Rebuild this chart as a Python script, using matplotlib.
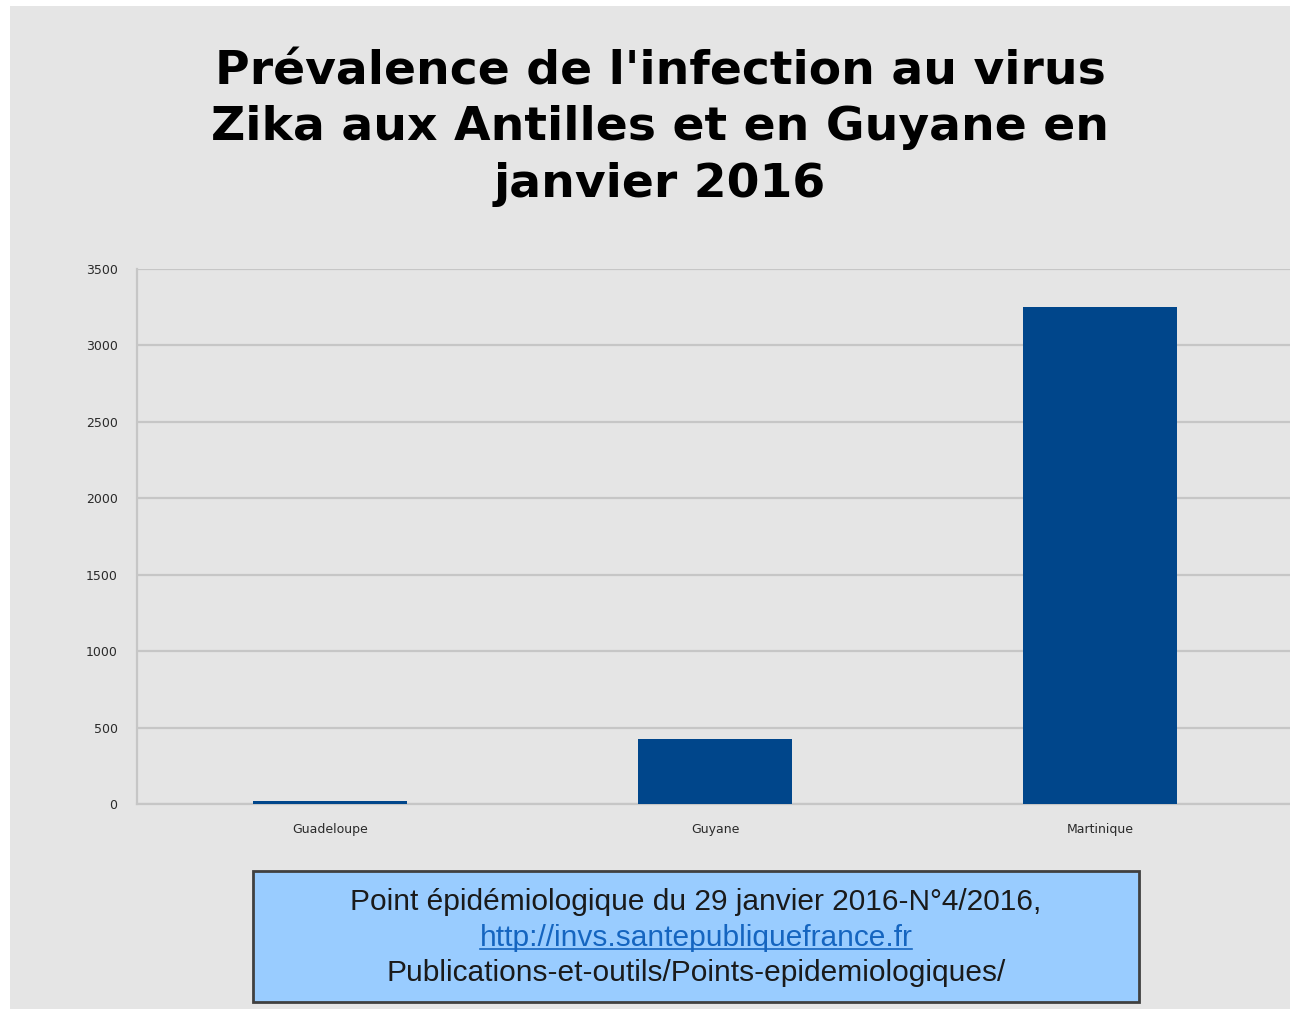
import matplotlib
matplotlib.use("Agg")
import matplotlib.pyplot as plt
from matplotlib.patches import Rectangle
from matplotlib.lines import Line2D

# donnees
regions = ['Guadeloupe', 'Guyane', 'Martinique']
cas = [18, 425, 3250]
yticks = [0, 500, 1000, 1500, 2000, 2500, 3000, 3500]

titre = "Prévalence de l'infection au virus\nZika aux Antilles et en Guyane en\njanvier 2016"
source_l1 = "Point épidémiologique du 29 janvier 2016-N°4/2016,"
source_lien = "http://invs.santepubliquefrance.fr"
source_l3 = "Publications-et-outils/Points-epidemiologiques/"

W, H = 1290, 1009
fig = plt.figure(figsize=(W / 100, H / 100), dpi=100, facecolor='white')

# fond gris
fig.patches.append(Rectangle((10 / W, 0), 1 - 10 / W, 1 - 6 / H, transform=fig.transFigure,
                             facecolor='#e5e5e5', edgecolor='none', zorder=-5))

ax = fig.add_axes([137 / W, 1 - 804 / H, 1156 / W, 535 / H])
ax.set_facecolor('none')
ax.bar(range(len(regions)), cas, width=0.4, color='#00468b', zorder=3)
ax.set_xlim(-0.5, 2.5)
ax.set_ylim(0, 3500)
ax.set_yticks(yticks)
ax.set_xticks(range(len(regions)))
ax.set_xticklabels(regions)
ax.grid(axis='y', color='#c6c6c6', linewidth=1.6, zorder=0)
for s in ['top', 'right']:
    ax.spines[s].set_visible(False)
for s in ['left', 'bottom']:
    ax.spines[s].set_color('#c6c6c6')
    ax.spines[s].set_linewidth(1.6)
ax.tick_params(length=0, labelsize=9, colors='#2a2a2a', pad=14)
ax.tick_params(axis='x', pad=14)

fig.text(660 / W, 1 - 128 / H, titre, ha='center', va='center', fontsize=34,
         fontweight='bold', family='DejaVu Sans', linespacing=1.32, color='black')

# encadre de la source
fig.patches.append(Rectangle((253 / W, 1 - 1002 / H), 886 / W, 131 / H, transform=fig.transFigure,
                             facecolor='#99ccff', edgecolor='#404040', linewidth=2, zorder=2))
cx = 696 / W
fig.text(cx, 1 - 902 / H, source_l1, ha='center', va='center', fontsize=21.5,
         family='Liberation Sans', color='#1a1a1a', zorder=3)
lien = fig.text(cx, 1 - 938 / H, source_lien, ha='center', va='center', fontsize=21.5,
                family='Liberation Sans', color='#1565c0', zorder=3)
fig.text(cx, 1 - 973 / H, source_l3, ha='center', va='center', fontsize=21.5,
         family='Liberation Sans', color='#1a1a1a', zorder=3)

# soulignement du lien
fig.canvas.draw()
bb = lien.get_window_extent()
yl = (bb.y0 + 3) / H
fig.lines.append(Line2D([bb.x0 / W, bb.x1 / W], [yl, yl], transform=fig.transFigure,
                        color='#1565c0', linewidth=1.2, zorder=3))

fig.savefig('out.png', dpi=100, facecolor='white')
